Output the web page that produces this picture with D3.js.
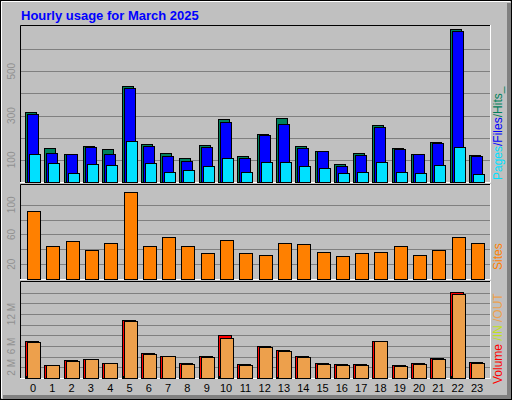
<!DOCTYPE html>
<html><head><meta charset="utf-8">
<script src="https://cdn.jsdelivr.net/npm/d3@7"></script>
<style>body{margin:0;background:#fff}svg{display:block;font-family:"Liberation Sans",Arial,sans-serif}</style>
</head><body>
<svg id="chart" width="512" height="400"></svg>
<script>
const hours = d3.range(24);
const hits  = [318,155,127,164,150,432,173,132,109,168,286,118,218,291,164,141,82,132,259,155,127,182,691,123];
const files = [305,132,127,159,127,423,164,118,95,159,273,109,214,264,155,141,73,123,250,150,127,177,682,118];
const pages = [127,86,41,82,77,186,86,45,55,73,109,45,91,91,73,64,41,45,91,45,41,77,159,36];
const sites = [92,44,51,39,49,117,44,57,44,35,53,35,33,49,47,37,31,35,36,45,32,39,57,48];
const volume = [6.85,2.38,3.45,3.63,2.74,10.95,4.7,4.17,2.74,4.17,8.1,2.56,5.95,5.24,4.17,2.74,2.56,2.56,7.02,2.38,2.74,3.81,16.13,2.92];
const volOut = [6.67,2.38,3.27,3.63,2.74,10.77,4.52,4.17,2.56,3.99,7.56,2.38,5.77,5.06,3.99,2.56,2.38,2.38,7.02,2.2,2.56,3.63,15.77,2.74];
const volIn  = [0.3,0.05,0.05,0.05,0.05,0.3,0.05,0.05,0.05,0.05,0.4,0.05,0.05,0.2,0.05,0.05,0.05,0.05,0.05,0.05,0.05,0.05,0.4,0.05];
const hitTicks = [100,300,500], hitGrid = [100,200,300,400,500,600];
const siteTicks = [20,60,100], siteGrid = [20,40,60,80,100];
const volTicks = [2,6,12], volGrid = [2,4,6,8,10,12,14,16];

const svg = d3.select('#chart');
const x = d3.scaleLinear().domain([0,23]).range([25,469]);

// frame
svg.append('rect').attr('x',0.5).attr('y',0.5).attr('width',511).attr('height',399).attr('fill','#c0c0c0').attr('stroke','#000');
svg.append('path').attr('d','M1.5,398V1.5H510').attr('stroke','#fff').attr('fill','none');
svg.append('path').attr('d','M509,3V397H3').attr('stroke','#808080').attr('stroke-width',4).attr('fill','none');

svg.append('text').attr('x',21).attr('y',20).attr('fill','#0000ff').attr('font-weight','bold').attr('font-size',13).text('Hourly usage for March 2025');

function panel(top, bottom, max, grid, ticks, fmt) {
  const y = d3.scaleLinear().domain([0,max]).range([bottom,top]);
  const g = svg.append('g');
  g.append('path').attr('d',`M20.5,${bottom}V${top+0.5}H490`).attr('stroke','#000').attr('fill','none');
  g.append('path').attr('d',`M20,${bottom+0.5}H490.5V${top}`).attr('stroke','#fff').attr('fill','none');
  g.selectAll('line.grid').data(grid).join('line').attr('class','grid')
    .attr('x1',21).attr('x2',490).attr('y1',d=>Math.round(y(d))+0.5).attr('y2',d=>Math.round(y(d))+0.5)
    .attr('stroke','#808080');
  g.selectAll('text.tick').data(ticks).join('text').attr('class','tick')
    .attr('transform',d=>`translate(15,${y(d)}) rotate(-90)`).attr('text-anchor','middle')
    .attr('font-size',10).attr('fill','#909090').text(fmt);
  return y;
}
function bars(y, data, dx, w, color) {
  svg.append('g').selectAll('rect').data(data).join('rect')
    .attr('x',(d,i)=>Math.round(x(i))+dx+0.5).attr('width',w)
    .attr('y',d=>Math.round(y(d))+0.5).attr('height',d=>Math.max(0,Math.round(y(0))-Math.round(y(d))))
    .attr('fill',color).attr('stroke','#000');
}

const y1 = panel(25,182,709,hitGrid,hitTicks,d=>d);
bars(y1,hits,0,11,'#00805c');
bars(y1,files,2,11,'#0000ff');
bars(y1,pages,4,11,'#00e0ff');

const y2 = panel(184,279,128,siteGrid,siteTicks,d=>d);
bars(y2,sites,2,13,'#ff8000');

const y3 = panel(281,378,18.2,volGrid,volTicks,d=>d+' M');
bars(y3,volume,0,13,'#ff0000');
bars(y3,volIn,1,1,'#ffff80');
bars(y3,volOut,2,13,'#eda04c');

svg.append('g').selectAll('text').data(hours).join('text')
  .attr('x',(d,i)=>x(i)+8).attr('y',392).attr('text-anchor','middle').attr('font-size',11).attr('fill','#000').text(d=>d);

function sideLabel(yBottom, parts) {
  const t = svg.append('text').attr('transform',`translate(502,${yBottom}) rotate(-90)`).attr('font-size',12);
  parts.forEach(([s,c])=>t.append('tspan').attr('fill',c).text(s));
}
sideLabel(180,[['Pages','#00e0ff'],['/','#0000ff'],['Files','#0000ff'],['/','#00805c'],['Hits_','#00805c']]);
sideLabel(270,[['Sites','#ff8000']]);
sideLabel(384,[['Volume','#ff0000'],[' /IN','#c0e020'],[' /OUT','#eda04c']]);
</script>
</body></html>
